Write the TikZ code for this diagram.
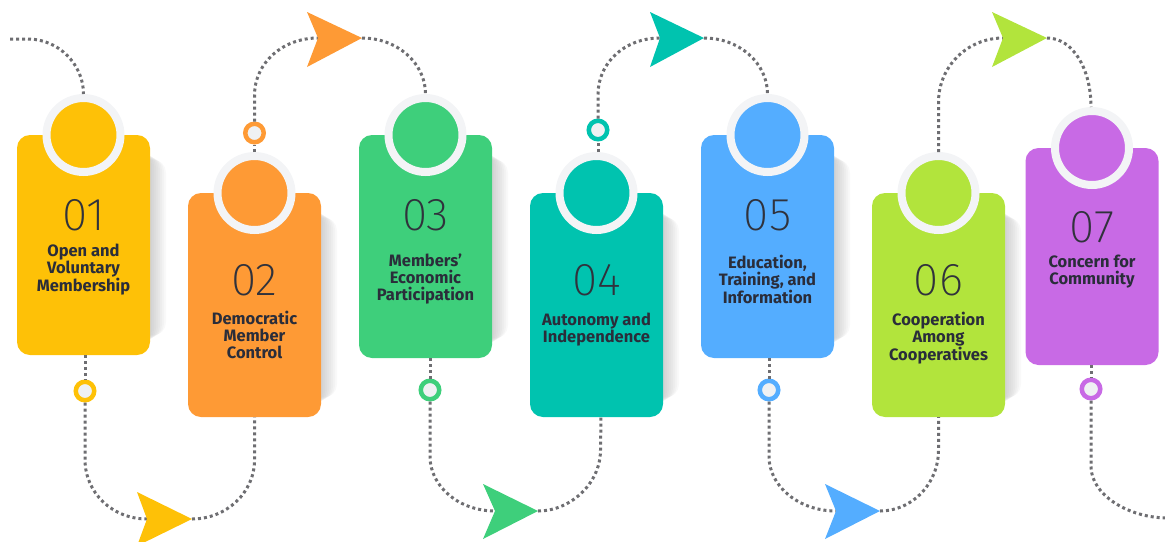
\documentclass[tikz,border=0pt]{standalone}
\usepackage{fontspec}
\setmainfont{Fira Sans}
\newfontfamily\numfont{Fira Sans ExtraLight}
\definecolor{c1}{HTML}{FEC107}
\definecolor{c2}{HTML}{FE9A35}
\definecolor{c3}{HTML}{3ECF7B}
\definecolor{c4}{HTML}{00C3AF}
\definecolor{c5}{HTML}{54ADFF}
\definecolor{c6}{HTML}{B2E43C}
\definecolor{c7}{HTML}{C86AE5}
\definecolor{ringgray}{HTML}{F3F4F6}
\definecolor{markfill}{HTML}{EFF1F3}
\definecolor{dotgray}{HTML}{6E6E72}
\definecolor{numgray}{HTML}{30323C}
\definecolor{labgray}{HTML}{2A2D3A}
\begin{document}
\begin{tikzpicture}[x=1pt,y=-1pt,
  conn/.style={draw=dotgray, line width=3pt, dash pattern=on 3pt off 3pt},
  cardbox/.style={rounded corners=13pt, minimum width=133pt, inner sep=0pt, outer sep=0pt},
  ringnode/.style={circle, minimum size=74pt, inner sep=0pt, draw=ringgray, line width=8pt},
  markernode/.style={circle, minimum size=18.5pt, inner sep=0pt, fill=markfill, line width=4.5pt},
  numtext/.style={font=\numfont\fontsize{46}{46}\selectfont, text=numgray, inner sep=0pt},
  labtext/.style={font=\bfseries\fontsize{16.5}{17}\selectfont, text=labgray, align=center, inner sep=0pt},
  cardshadow/.style={fill=black, opacity=0.025, rounded corners=13pt}
]
\useasboundingbox (0,0) rectangle (1165,541);

% arrowhead coordinates (notch n, tip t)
\coordinate (n1) at (147,519); \coordinate (t1) at (192,519);
\coordinate (n2) at (318,38);  \coordinate (t2) at (362,38);
\coordinate (n3) at (495,511); \coordinate (t3) at (538,511);
\coordinate (n4) at (660,38);  \coordinate (t4) at (704,38);
\coordinate (n5) at (836,511); \coordinate (t5) at (880,511);
\coordinate (n6) at (1003,38); \coordinate (t6) at (1047,38);
\coordinate (start) at (10,39);
\coordinate (finish) at (1168,518);

% card shadows
\foreach \cx/\ya/\yb in {83.5/150/345, 254.5/208/407, 425.5/150/348, 596.5/208/407, 767.5/150/348, 938.5/208/407}{
  \foreach \s in {2,4,...,16}{
    \fill[cardshadow] (\cx-66.5+\s,\ya+\s*0.6) rectangle (\cx+66.5+\s,\yb-\s*0.6);
  }
}

% cards
\node[cardbox, fill=c1, minimum height=220pt] (k1) at (83.5,245) {};
\node[cardbox, fill=c2, minimum height=224pt] (k2) at (254.5,305) {};
\node[cardbox, fill=c3, minimum height=223pt] (k3) at (425.5,246.5) {};
\node[cardbox, fill=c4, minimum height=224pt] (k4) at (596.5,305) {};
\node[cardbox, fill=c5, minimum height=223pt] (k5) at (767.5,246.5) {};
\node[cardbox, fill=c6, minimum height=224pt] (k6) at (938.5,305) {};
\node[cardbox, fill=c7, minimum height=217pt] (k7) at (1092,256.5) {};

% rings
\node[ringnode, fill=c1] (r1) at (83.5,135) {};
\node[ringnode, fill=c2] (r2) at (254.5,193) {};
\node[ringnode, fill=c3] (r3) at (425.5,135) {};
\node[ringnode, fill=c4] (r4) at (596.5,193) {};
\node[ringnode, fill=c5] (r5) at (767.5,135) {};
\node[ringnode, fill=c6] (r6) at (938.5,193) {};
\node[ringnode, fill=c7] (r7) at (1092,148) {};

% markers
\node[markernode, draw=c1] (m1) at (85,391) {};
\node[markernode, draw=c2] (m2) at (254.5,133) {};
\node[markernode, draw=c3] (m3) at (430,390) {};
\node[markernode, draw=c4] (m4) at (598,130) {};
\node[markernode, draw=c5] (m5) at (769,390) {};
\node[markernode, draw=c7] (m7) at (1091,389) {};

% connectors
\draw[conn] (start) -- ++(18,0) .. controls +(30,0) and +(0,-30) .. (r1.north);
\draw[conn] (k1.south -| m1) -- (m1.north);
\draw[conn] (m1.south) -- ++(0,57) .. controls +(0,33) and +(-35,0) .. (n1);
\draw[conn] (t1) .. controls +(34,0) and +(0,33) .. ++(62.5,-59) -- (k2.south);
\draw[conn] (r2.north) -- (m2.south);
\draw[conn] (m2.north) -- ++(0,-26) .. controls +(0,-33) and +(-35,0) .. (n2);
\draw[conn] (t2) .. controls +(35,0) and +(0,-31) .. (r3.north);
\draw[conn] (k3.south -| m3) -- (m3.north);
\draw[conn] (m3.south) -- ++(0,55) .. controls +(0,30) and +(-36,0) .. (n3);
\draw[conn] (t3) .. controls +(32,0) and +(0,34) .. ++(62.5,-61) -- (k4.south -| 601,0);
\draw[conn] (r4.north -| m4) -- (m4.south);
\draw[conn] (m4.north) -- ++(0,-24) .. controls +(0,-32) and +(-35,0) .. (n4);
\draw[conn] (t4) .. controls +(35,0) and +(0,-31) .. (r5.north);
\draw[conn] (k5.south -| m5) -- (m5.north);
\draw[conn] (m5.south) -- ++(0,55) .. controls +(0,30) and +(-37,0) .. (n5);
\draw[conn] (t5) .. controls +(32,0) and +(0,34) .. ++(58.5,-61) -- (k6.south);
\draw[conn] (r6.north) -- ++(0,-50) .. controls +(0,-35) and +(-36,0) .. (n6);
\draw[conn] (t6) .. controls +(26,0) and +(0,-38) .. (r7.north -| m7);
\draw[conn] (k7.south -| m7) -- (m7.north);
\draw[conn] (m7.south) -- ++(0,66) .. controls +(0,28) and +(-40,0) .. (finish);

% arrowheads
\fill[c1] (137,492) -- (t1) -- (137,546) -- (n1) -- cycle;
\fill[c2] (307,12) -- (t2) -- (307,67) -- (n2) -- cycle;
\fill[c3] (483,484) -- (t3) -- (483,539) -- (n3) -- cycle;
\fill[c4] (650,12) -- (t4) -- (650,67) -- (n4) -- cycle;
\fill[c5] (825,484) -- (t5) -- (825,539) -- (n5) -- cycle;
\fill[c6] (992,12) -- (t6) -- (992,67) -- (n6) -- cycle;

% numbers
\node[numtext] (d1) at (83.5,215) {01};
\node[numtext] (d2) at (254.5,280) {02};
\node[numtext] (d3) at (425.5,215) {03};
\node[numtext] (d4) at (596.5,280) {04};
\node[numtext] (d5) at (767.5,215) {05};
\node[numtext] (d6) at (938.5,280) {06};
\node[numtext] (d7) at (1092,227) {07};

% labels
\node[labtext] (l1) at (83.5,269.5) {Open and\\Voluntary\\Membership};
\node[labtext] (l2) at (254.5,334.5) {Democratic\\Member\\Control};
\node[labtext] (l3) at (425.5,279) {Members’\\Economic\\Participation};
\node[labtext] (l4) at (596.5,329.5) {Autonomy and\\Independence};
\node[labtext] (l5) at (767.5,279) {Education,\\Training, and\\Information};
\node[labtext] (l6) at (938.5,338) {Cooperation\\Among\\Cooperatives};
\node[labtext] (l7) at (1092,272) {Concern for\\Community};
\end{tikzpicture}
\end{document}
